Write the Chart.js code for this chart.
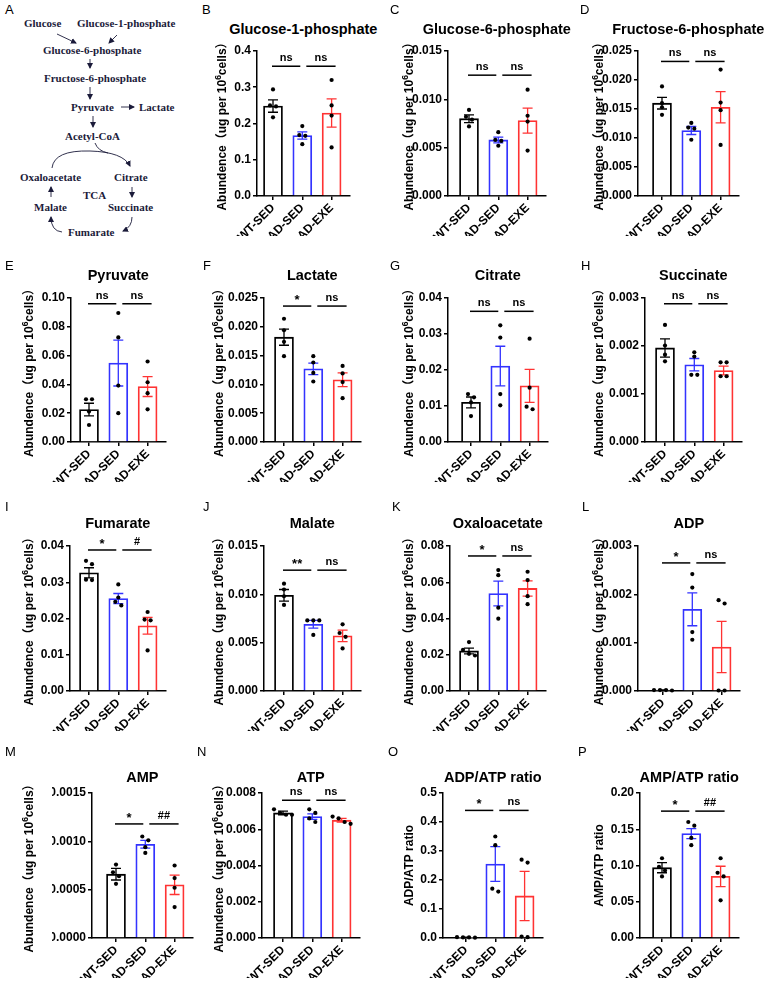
<!DOCTYPE html>
<html>
<head>
<meta charset="utf-8">
<title>Glycolysis and TCA metabolites</title>
<script src="https://cdn.jsdelivr.net/npm/chart.js"></script>
<style>
    body, html {
        margin: 0;
        padding: 0;
        background: #fff;
        width: 767px;
        height: 987px;
        overflow: hidden;
        font-family: "Liberation Sans", Arial, sans-serif;
    }
    #page { position: relative; width: 767px; height: 987px; }
    canvas { position: absolute; left: 0; top: 0; }
    .letter { position: absolute; font-size: 13px; line-height: 13px; color: #000; }
    .ttl {
        position: absolute;
        font-weight: bold;
        font-size: 14.5px;
        line-height: 16px;
        white-space: nowrap;
        transform: translateX(-50%);
    }
    #pathway { position: absolute; left: 0; top: 0; }
    #pathway text { font-family: "Liberation Serif", "Times New Roman", serif; font-weight: bold; font-size: 11px; fill: #1b1b3a; }
</style>
</head>
<body>
<div id="page">
    <div class="letter" style="left:5px;top:3px;">A</div>
    <svg id="pathway" width="190" height="245">
        <defs>
            <marker id="ah" markerWidth="6" markerHeight="6" refX="5" refY="3" orient="auto" markerUnits="userSpaceOnUse">
                <path d="M0,0 L6,3 L0,6 z" fill="#1b1b3a"/>
            </marker>
        </defs>
        <g stroke="#1b1b3a" stroke-width="0.9" fill="none">
            <line x1="57" y1="34" x2="76" y2="43" marker-end="url(#ah)"/>
            <line x1="117" y1="35" x2="109" y2="43" marker-end="url(#ah)"/>
            <line x1="90" y1="59" x2="90" y2="68" marker-end="url(#ah)"/>
            <line x1="90" y1="87" x2="90" y2="99" marker-end="url(#ah)"/>
            <line x1="121" y1="107" x2="134" y2="107" marker-end="url(#ah)"/>
            <line x1="93" y1="116" x2="93" y2="127" marker-end="url(#ah)"/>
            <path d="M95,143 Q98,151 108,153"/>
            <path d="M52,168 Q54,150 90,151 Q123,152 130,166" marker-end="url(#ah)"/>
            <line x1="51" y1="197" x2="51" y2="187" marker-end="url(#ah)"/>
            <line x1="132" y1="187" x2="132" y2="197" marker-end="url(#ah)"/>
            <path d="M62,232 Q51,231 51,217" marker-end="url(#ah)"/>
            <path d="M132,217 Q132,227 123,231" marker-end="url(#ah)"/>
        </g>
        <text x="24" y="27">Glucose</text>
        <text x="77" y="27">Glucose-1-phosphate</text>
        <text x="43" y="54">Glucose-6-phosphate</text>
        <text x="44" y="82">Fructose-6-phosphate</text>
        <text x="71" y="111">Pyruvate</text>
        <text x="139" y="111">Lactate</text>
        <text x="65" y="140">Acetyl-CoA</text>
        <text x="20" y="181">Oxaloacetate</text>
        <text x="114" y="181">Citrate</text>
        <text x="83" y="199">TCA</text>
        <text x="34" y="211">Malate</text>
        <text x="108" y="211">Succinate</text>
        <text x="68" y="236">Fumarate</text>
    </svg>
</div>
<script>
const groups = ['WT-SED', 'AD-SED', 'AD-EXE'];

const panelLetters = ['B', 'C', 'D', 'E', 'F', 'G', 'H', 'I', 'J', 'K', 'L', 'M', 'N', 'O', 'P'];
const panelTitles = ['Glucose-1-phosphate', 'Glucose-6-phosphate', 'Fructose-6-phosphate',
    'Pyruvate', 'Lactate', 'Citrate', 'Succinate',
    'Fumarate', 'Malate', 'Oxaloacetate', 'ADP',
    'AMP', 'ATP', 'ADP/ATP ratio', 'AMP/ATP ratio'];
// null = "Abundence (ug per 10^6 cells)"
const yTitles = [null, null, null, null, null, null, null, null, null, null, null, null, null,
    'ADP/ATP ratio', 'AMP/ATP ratio'];

const yMax = [0.4, 0.015, 0.025, 0.10, 0.025, 0.04, 0.003, 0.04, 0.015, 0.08, 0.003, 0.0015, 0.008, 0.5, 0.20];
const yStep = [0.1, 0.005, 0.005, 0.02, 0.005, 0.01, 0.001, 0.01, 0.005, 0.02, 0.001, 0.0005, 0.002, 0.1, 0.05];
const yDecimals = [1, 3, 3, 2, 3, 2, 3, 2, 3, 2, 3, 4, 3, 1, 2];

const barMeans = [
    [0.248, 0.167, 0.229],
    [0.0080, 0.0058, 0.0078],
    [0.0160, 0.0113, 0.0153],
    [0.0225, 0.0548, 0.0385],
    [0.0182, 0.0127, 0.0108],
    [0.0110, 0.0211, 0.0156],
    [0.00196, 0.00161, 0.00149],
    [0.0326, 0.0255, 0.0180],
    [0.0099, 0.0069, 0.0057],
    [0.0221, 0.0538, 0.0566],
    [0.00002, 0.00169, 0.00091],
    [0.00066, 0.00097, 0.00055],
    [0.0069, 0.0067, 0.0065],
    [0.002, 0.255, 0.145],
    [0.097, 0.144, 0.085]
];
const barSems = [
    [0.017, 0.010, 0.039],
    [0.0004, 0.0003, 0.0013],
    [0.0010, 0.0007, 0.0027],
    [0.0044, 0.0159, 0.0069],
    [0.0014, 0.0010, 0.0012],
    [0.0015, 0.0055, 0.0046],
    [0.00019, 0.00013, 0.00009],
    [0.0014, 0.0014, 0.0023],
    [0.0006, 0.0004, 0.0006],
    [0.0016, 0.0068, 0.0042],
    [0.000005, 0.00034, 0.00053],
    [0.00006, 0.00004, 0.0001],
    [0.0001, 0.00015, 0.0001],
    [0.001, 0.06, 0.085],
    [0.007, 0.007, 0.014]
];
const pointValues = [
    [[0.294, 0.250, 0.247, 0.217], [0.193, 0.168, 0.166, 0.143], [0.320, 0.250, 0.222, 0.134]],
    [[0.0089, 0.0082, 0.0079, 0.0072], [0.0066, 0.0058, 0.0057, 0.0052], [0.0110, 0.0083, 0.0077, 0.0047]],
    [[0.0189, 0.0160, 0.0153, 0.0140], [0.0126, 0.0118, 0.0116, 0.0097], [0.0218, 0.0161, 0.0148, 0.0088]],
    [[0.0297, 0.0297, 0.0211, 0.0118], [0.0896, 0.0726, 0.0392, 0.0200], [0.0559, 0.0415, 0.0339, 0.0227]],
    [[0.0214, 0.0194, 0.0174, 0.0149], [0.0149, 0.0138, 0.0120, 0.0105], [0.0132, 0.0119, 0.0104, 0.0076]],
    [[0.0133, 0.0124, 0.0110, 0.0072], [0.0324, 0.0290, 0.0133, 0.0102], [0.0287, 0.0151, 0.0098, 0.0091]],
    [[0.00244, 0.00201, 0.00182, 0.00168], [0.00187, 0.00178, 0.00140, 0.00140], [0.00166, 0.00166, 0.00137, 0.00137]],
    [[0.0359, 0.0350, 0.0307, 0.0306], [0.0294, 0.0258, 0.0246, 0.0236], [0.0218, 0.0197, 0.0195, 0.0112]],
    [[0.0111, 0.0105, 0.0098, 0.0089], [0.0073, 0.0073, 0.0073, 0.0058], [0.0069, 0.0060, 0.0056, 0.0044]],
    [[0.0270, 0.0227, 0.0205, 0.0196], [0.0667, 0.0639, 0.0460, 0.0399], [0.0658, 0.0612, 0.0523, 0.0479]],
    [[0.00002, 0.00002, 0.00001, 0.00002], [0.00242, 0.00214, 0.00122, 0.00106], [0.00188, 0.00181, 0.00001, 0.00001]],
    [[0.00076, 0.00068, 0.00064, 0.00056], [0.00105, 0.00101, 0.00094, 0.00088], [0.00075, 0.00062, 0.00052, 0.00032]],
    [[0.0071, 0.0069, 0.0068, 0.0068], [0.0071, 0.0069, 0.0066, 0.0064], [0.0067, 0.0066, 0.0064, 0.0063]],
    [[0.003, 0.002, 0.002, 0.001], [0.350, 0.320, 0.170, 0.160], [0.270, 0.260, 0.005, 0.003]],
    [[0.110, 0.098, 0.093, 0.085], [0.160, 0.155, 0.138, 0.128], [0.110, 0.090, 0.085, 0.052]]
];
const sigLabels = [
    ['ns', 'ns'], ['ns', 'ns'], ['ns', 'ns'],
    ['ns', 'ns'], ['*', 'ns'], ['ns', 'ns'], ['ns', 'ns'],
    ['*', '#'], ['**', 'ns'], ['*', 'ns'], ['*', 'ns'],
    ['*', '##'], ['ns', 'ns'], ['*', 'ns'], ['*', '##']
];
const sigLevel = [0.358, 0.0125, 0.0232, 0.096, 0.0236, 0.0363, 0.00288, 0.0389, 0.0125, 0.0745, 0.00265, 0.00118, 0.0076, 0.44, 0.175];

// ---- layout (page pixels) ----
const W = 767, H = 987;
const Y_BOX = 40, X_BOX = 40;
const colors = ['#000000', '#3333ff', '#ff3333'];
const cellX = [190, 380, 570, 0, 190, 380, 570, 0, 190, 380, 570, 0, 190, 380, 570];
const panelRow = [0, 0, 0, 1, 1, 1, 1, 2, 2, 2, 2, 3, 3, 3, 3];
const axisX = [257, 448, 638, 71, 264, 448, 645, 70, 264, 450, 638, 92, 262, 443, 640];
const firstBar = [273, 469, 662, 89, 284, 471, 665, 89, 284, 469, 663, 116, 283, 466, 662];
const letterOffset = [12, 10, 10, 5, 13, 10, 11, 5, 13, 12, 12, 5, 7, 8, 8];
const rowTop = [51, 298, 546, 793];
const rowBottom = [196, 442, 691, 938];
const rowLetterY = [3, 259, 500, 745];
const rowTitleY = [21, 267, 515, 769];
const barGap = 29.3;
const tailGap = 18;

Chart.defaults.font.family = '"Liberation Sans", Arial, sans-serif';
Chart.defaults.font.weight = 'bold';
Chart.defaults.color = '#000';

function dotOffsets(pixels) {
    // put overlapping dots side by side
    const order = pixels.map((p, i) => i).sort((a, b) => pixels[a] - pixels[b]);
    const off = new Array(pixels.length).fill(0);
    let cluster = [];
    const flush = () => {
        cluster.forEach((idx, j) => { off[idx] = (j - (cluster.length - 1) / 2) * 6; });
        cluster = [];
    };
    order.forEach(i => {
        if (cluster.length && pixels[i] - pixels[cluster[cluster.length - 1]] > 4) flush();
        cluster.push(i);
    });
    flush();
    return off;
}

const panelDecor = {
    id: 'panelDecor',
    afterDatasetsDraw(chart, args, opts) {
        const k = opts.index;
        const ctx = chart.ctx;
        const x = chart.scales.x, y = chart.scales.y;
        ctx.save();
        // error bars
        barMeans[k].forEach((m, i) => {
            const cx = x.getPixelForValue(i);
            const top = y.getPixelForValue(m + barSems[k][i]);
            const bot = y.getPixelForValue(Math.max(0, m - barSems[k][i]));
            ctx.strokeStyle = colors[i];
            ctx.lineWidth = 1.3;
            ctx.beginPath();
            ctx.moveTo(cx, top); ctx.lineTo(cx, bot);
            ctx.moveTo(cx - 5, top); ctx.lineTo(cx + 5, top);
            ctx.moveTo(cx - 5, bot); ctx.lineTo(cx + 5, bot);
            ctx.stroke();
        });
        // individual values
        ctx.fillStyle = '#000';
        pointValues[k].forEach((vals, i) => {
            const cx = x.getPixelForValue(i);
            const py = vals.map(v => y.getPixelForValue(v));
            const off = dotOffsets(py);
            py.forEach((p, j) => {
                ctx.beginPath();
                ctx.arc(cx + off[j], p, 2.1, 0, Math.PI * 2);
                ctx.fill();
            });
        });
        // significance brackets
        const ly = y.getPixelForValue(sigLevel[k]);
        const spans = [[x.getPixelForValue(0) - 1, x.getPixelForValue(1) - 2],
                       [x.getPixelForValue(1) + 4, x.getPixelForValue(2) + 4]];
        ctx.strokeStyle = '#000';
        ctx.lineWidth = 1.5;
        ctx.textAlign = 'center';
        ctx.textBaseline = 'alphabetic';
        spans.forEach((s, j) => {
            ctx.beginPath();
            ctx.moveTo(s[0], ly); ctx.lineTo(s[1], ly);
            ctx.stroke();
            const lab = sigLabels[k][j];
            const star = lab.indexOf('*') >= 0;
            ctx.font = star ? 'bold 13px "Liberation Sans", Arial, sans-serif' : 'bold 11px "Liberation Sans", Arial, sans-serif';
            ctx.fillText(lab, (s[0] + s[1]) / 2, ly - (star ? 2 : 5));
        });
        // y axis title
        const tx = cellX[k] + (k === 0 ? 33 : 30);
        const ty = (chart.chartArea.top + chart.chartArea.bottom) / 2;
        ctx.translate(tx, ty);
        ctx.rotate(-Math.PI / 2);
        ctx.textAlign = 'left';
        ctx.textBaseline = 'middle';
        const big = 'bold 12px "Liberation Sans", Arial, "Noto Sans CJK SC", sans-serif';
        const small = 'bold 8.5px "Liberation Sans", Arial, sans-serif';
        if (yTitles[k]) {
            ctx.font = big;
            ctx.textAlign = 'center';
            ctx.fillText(yTitles[k], 0, 0);
        } else {
            const p1 = 'Abundence\uFF08ug per 10', p2 = '6', p3 = 'cells\uFF09';
            ctx.font = big;
            const w1 = ctx.measureText(p1).width, w3 = ctx.measureText(p3).width;
            ctx.font = small;
            const w2 = ctx.measureText(p2).width;
            let sx = -(w1 + w2 + w3) / 2;
            ctx.font = big;
            ctx.fillText(p1, sx, 0);
            ctx.font = small;
            ctx.fillText(p2, sx + w1, -4);
            ctx.font = big;
            ctx.fillText(p3, sx + w1 + w2, 0);
        }
        ctx.restore();
    }
};

const page = document.getElementById('page');

panelTitles.forEach((title, k) => {
    const r = panelRow[k];
    const top = rowTop[r], bottom = rowBottom[r];
    const end = firstBar[k] + 2 * barGap + tailGap;

    const letter = document.createElement('div');
    letter.className = 'letter';
    letter.style.left = (cellX[k] + letterOffset[k]) + 'px';
    letter.style.top = rowLetterY[r] + 'px';
    letter.textContent = panelLetters[k];
    page.appendChild(letter);

    const t = document.createElement('div');
    t.className = 'ttl';
    t.style.left = ((axisX[k] + end) / 2) + 'px';
    t.style.top = rowTitleY[r] + 'px';
    t.textContent = title;
    page.appendChild(t);

    const canvas = document.createElement('canvas');
    canvas.width = W;
    canvas.height = H;
    page.appendChild(canvas);

    const nTicks = Math.round(yMax[k] / yStep[k]);
    const axisStyle = { display: true, color: '#000', width: 1.5 };
    const gridStyle = { display: true, drawOnChartArea: false, drawTicks: true, tickLength: 4, color: '#000', lineWidth: 1.5, offset: false };

    new Chart(canvas, {
        type: 'bar',
        data: {
            datasets: [{
                data: barMeans[k].map((v, i) => ({ x: i, y: v })),
                borderColor: colors,
                backgroundColor: '#ffffff',
                borderWidth: 1.8,
                barThickness: 19
            }]
        },
        options: {
            responsive: false,
            animation: false,
            events: [],
            layout: {
                padding: { left: axisX[k] - Y_BOX, top: top, right: W - end, bottom: H - bottom - X_BOX }
            },
            plugins: {
                legend: { display: false },
                tooltip: { enabled: false },
                panelDecor: { index: k }
            },
            scales: {
                x: {
                    type: 'linear',
                    offset: false,
                    min: -(firstBar[k] - axisX[k]) / barGap,
                    max: 2 + tailGap / barGap,
                    afterBuildTicks: s => { s.ticks = groups.map((g, i) => ({ value: i })); },
                    afterFit: s => { s.height = X_BOX; },
                    ticks: {
                        callback: v => groups[v],
                        minRotation: 45,
                        maxRotation: 45,
                        padding: 1,
                        font: { size: 12, weight: 'bold' },
                        color: '#000'
                    },
                    grid: gridStyle,
                    border: axisStyle
                },
                y: {
                    min: 0,
                    max: yMax[k],
                    afterBuildTicks: s => {
                        s.ticks = Array.from({ length: nTicks + 1 }, (_, i) => ({ value: i * yStep[k] }));
                    },
                    afterFit: s => { s.width = Y_BOX; },
                    ticks: {
                        callback: v => v.toFixed(yDecimals[k]),
                        padding: 2,
                        font: { size: 12, weight: 'bold' },
                        color: '#000'
                    },
                    grid: gridStyle,
                    border: axisStyle
                }
            }
        },
        plugins: [panelDecor]
    });
});
</script>
</body>
</html>
